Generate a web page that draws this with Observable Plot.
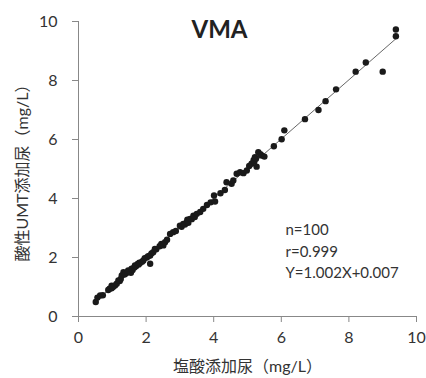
<!DOCTYPE html>
<html>
<head>
<meta charset="utf-8">
<script src="https://cdn.jsdelivr.net/npm/d3@7"></script>
<script src="https://cdn.jsdelivr.net/npm/@observablehq/plot@0.6"></script>
<style>
  html, body { margin: 0; padding: 0; background: #fff; }
</style>
</head>
<body>
<div id="chart"></div>
<script>
const title = "VMA";
const xLabel = "塩酸添加尿（mg/L）";
const yLabel = "酸性UMT添加尿（mg/L）";
const xTicks = [0, 2, 4, 6, 8, 10];
const yTicks = [0, 2, 4, 6, 8, 10];
const statLines = ["n=100", "r=0.999", "Y=1.002X+0.007"];
const slope = 1.002;
const intercept = 0.007;

const xVals = [
  0.51, 0.56, 0.64, 0.72, 0.88, 0.92, 0.98, 0.98, 1.02, 1.08,
  1.13, 1.18, 1.22, 1.25, 1.28, 1.33, 1.36, 1.40, 1.45, 1.47,
  1.52, 1.55, 1.57, 1.60, 1.65, 1.67, 1.70, 1.75, 1.78, 1.80,
  1.82, 1.88, 1.92, 1.96, 2.02, 2.06, 2.12, 2.12, 2.16, 2.21,
  2.26, 2.30, 2.40, 2.45, 2.51, 2.56, 2.62, 2.71, 2.80, 2.88,
  3.00, 3.05, 3.10, 3.15, 3.20, 3.22, 3.25, 3.30, 3.35, 3.40,
  3.44, 3.50, 3.60, 3.69, 3.80, 3.91, 4.01, 4.04, 4.20, 4.33,
  4.38, 4.53, 4.58, 4.68, 4.78, 4.88, 4.98, 5.05, 5.12, 5.18,
  5.20, 5.22, 5.25, 5.27, 5.32, 5.38, 5.42, 5.50, 5.78, 6.01,
  6.09, 6.70, 7.10, 7.31, 7.62, 8.20, 8.50, 9.00, 9.39, 9.39
];
const yVals = [
  0.49, 0.64, 0.71, 0.72, 0.90, 0.94, 0.96, 1.04, 1.00, 1.05,
  1.11, 1.22, 1.20, 1.27, 1.39, 1.50, 1.42, 1.46, 1.50, 1.56,
  1.52, 1.48, 1.62, 1.58, 1.66, 1.73, 1.70, 1.78, 1.76, 1.82,
  1.81, 1.86, 1.90, 1.98, 2.00, 2.04, 2.07, 1.79, 2.14, 2.18,
  2.29, 2.28, 2.38, 2.46, 2.41, 2.52, 2.60, 2.80, 2.86, 2.90,
  3.08, 3.04, 3.14, 3.12, 3.20, 3.28, 3.18, 3.31, 3.30, 3.42,
  3.37, 3.48, 3.54, 3.65, 3.78, 3.87, 4.10, 3.90, 4.18, 4.29,
  4.55, 4.50, 4.61, 4.84, 4.89, 4.86, 4.95, 5.10, 5.18, 5.30,
  5.25, 5.40, 5.35, 5.08, 5.57, 5.50, 5.46, 5.42, 5.77, 6.01,
  6.31, 6.69, 7.00, 7.30, 7.70, 8.30, 8.61, 8.30, 9.50, 9.73
];

const points = xVals.map((x, i) => ({x, y: yVals[i]}));
const xMin = d3.min(xVals), xMax = d3.max(xVals);
const regLine = [xMin, xMax].map(x => ({x, y: slope * x + intercept}));

const font = "Lato, 'Noto Sans CJK JP', sans-serif";

const chart = Plot.plot({
  width: 426,
  height: 378,
  marginLeft: 78,
  marginRight: 10,
  marginTop: 21,
  marginBottom: 62,
  style: {fontFamily: font, fontSize: "16px", color: "#333", background: "#fff"},
  x: {domain: [0, 10]},
  y: {domain: [0, 10]},
  marks: [
    Plot.axisX({ticks: xTicks, tickSize: 6, tickPadding: 9, stroke: "#888",
      label: xLabel, labelAnchor: "center", labelOffset: 55, labelArrow: "none", fontSize: 16}),
    Plot.axisY({ticks: yTicks, tickSize: 6, tickPadding: 15, stroke: "#888",
      label: yLabel, labelAnchor: "center", labelOffset: 62, labelArrow: "none", fontSize: 16}),
    Plot.ruleX([0], {stroke: "#888"}),
    Plot.ruleY([0], {stroke: "#888"}),
    Plot.line(regLine, {x: "x", y: "y", stroke: "#555", strokeWidth: 0.9}),
    Plot.dot(points, {x: "x", y: "y", r: 3.2, fill: "#1a1a1a", stroke: "none"}),
    Plot.text([title], {text: d => d, frameAnchor: "top-left", dx: 113, dy: -1,
      textAnchor: "start", lineAnchor: "top", fontSize: 24, fontWeight: "bold", fill: "#222"}),
    Plot.text([statLines.join("\n")], {text: d => d, frameAnchor: "top-left", dx: 207, dy: 198,
      textAnchor: "start", lineAnchor: "top", fontSize: 15, lineHeight: 1.45, fill: "#333"})
  ]
});
document.getElementById("chart").append(chart);
</script>
</body>
</html>
